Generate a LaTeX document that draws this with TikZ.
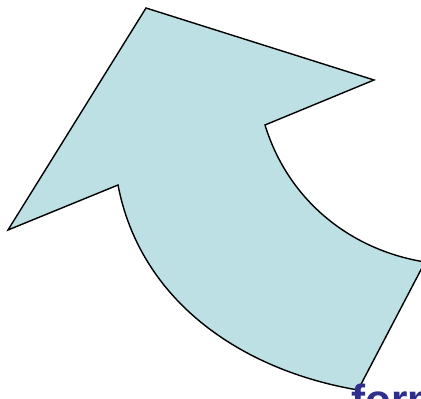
\documentclass[tikz,border=0pt]{standalone}
\usepackage{fontspec}
\setmainfont{Liberation Sans}
\definecolor{arrowfill}{HTML}{BCE0E4}
\definecolor{textblue}{HTML}{2E2E8F}
\begin{document}
\begin{tikzpicture}[x=0.02cm, y=-0.02cm]
  \useasboundingbox (0,0) rectangle (421,398);
  \clip (0,0) rectangle (421,398);
  \draw[thick, fill=arrowfill, line join=miter]
    (146,8) -- (374,80) -- (265,125)
    .. controls (288,200) and (350,250) .. (425,262)
    -- (358,390)
    .. controls (240,370) and (140,300) .. (118,185)
    -- (8,230) -- cycle;
  \node[anchor=base west, inner sep=0pt, text=textblue, font=\fontsize{24}{28}\selectfont\bfseries] (word) at (351,414) {form};
\end{tikzpicture}
\end{document}
